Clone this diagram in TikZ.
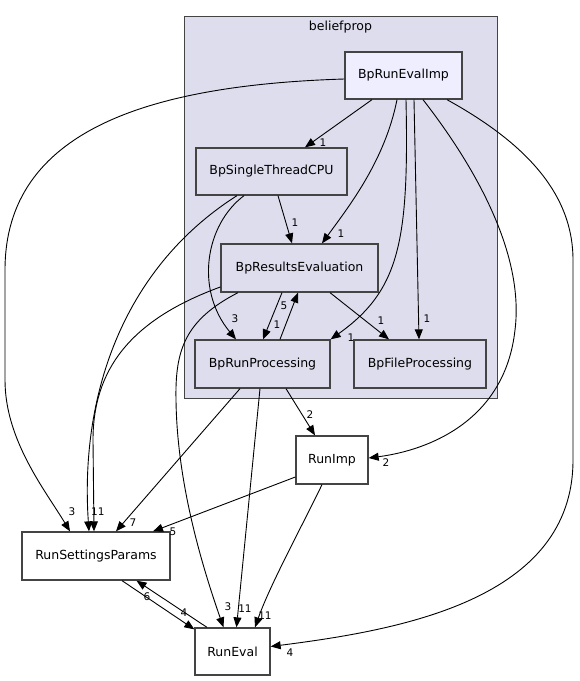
\documentclass[tikz,border=0pt]{standalone}
\usepackage{fontspec}
\setmainfont{DejaVu Sans}
\usetikzlibrary{arrows.meta}
\definecolor{clfill}{HTML}{DDDDEE}
\definecolor{hifill}{HTML}{EEEEFF}
\definecolor{bord}{HTML}{444444}
\tikzset{
 box/.style={draw=bord, line width=1.3pt, rectangle, inner sep=0pt, font=\fontsize{12.5}{14}\selectfont},
 inbox/.style={box, fill=clfill},
 outbox/.style={box, fill=white},
 edge/.style={draw=black, line width=0.9pt, -{Triangle[length=10pt,width=8pt]}},
 lbl/.style={font=\fontsize{10.5}{12}\selectfont, inner sep=0pt},
}
\begin{document}
\begin{tikzpicture}[x=1pt,y=-1pt]
\useasboundingbox (0,0) rectangle (580,681);
\node[draw=bord, fill=clfill, line width=1pt, minimum width=313pt, minimum height=382pt, inner sep=0pt] (cl) at (340.5,207) {};
\node[font=\fontsize{12.5}{14}\selectfont] (cltitle) at (340.5,27) {beliefprop};
\node[box, fill=hifill, minimum width=117pt, minimum height=47pt] (evalimp) at (403.5,75.5) {BpRunEvalImp};
\node[inbox, minimum width=151pt, minimum height=47pt] (stcpu) at (271.5,171.5) {BpSingleThreadCPU};
\node[inbox, minimum width=157pt, minimum height=48pt] (reseval) at (299.5,268) {BpResultsEvaluation};
\node[inbox, minimum width=135pt, minimum height=48pt] (runproc) at (262.5,364) {BpRunProcessing};
\node[inbox, minimum width=132pt, minimum height=48pt] (fileproc) at (420,364) {BpFileProcessing};
\node[outbox, minimum width=72pt, minimum height=48pt] (runimp) at (332,460) {RunImp};
\node[outbox, minimum width=148pt, minimum height=48pt] (rsp) at (96,556) {RunSettingsParams};
\node[outbox, minimum width=75pt, minimum height=47pt] (runeval) at (232.5,651.5) {RunEval};

\draw[edge] ([xshift=-31.5pt]evalimp.south) -- ([xshift=33.5pt]stcpu.north);
\draw[edge] ([yshift=-3.5pt]evalimp.west) .. controls (150,85) and (5,130) .. (5,270) -- (5,380) .. controls (5,440) and (45,490) .. ([xshift=-26pt]rsp.north);
\draw[edge] ([xshift=-6.5pt]evalimp.south) .. controls (385,160) and (350,205) .. ([xshift=22.5pt]reseval.north);
\draw[edge] ([xshift=2.5pt]evalimp.south) .. controls (409,240) and (400,290) .. (runproc.north east);
\draw[edge] ([xshift=10.5pt]evalimp.south) -- ([xshift=-1pt]fileproc.north);
\draw[edge] ([xshift=19.5pt]evalimp.south) .. controls (470,160) and (525,250) .. (515,330) .. controls (505,420) and (430,450) .. ([yshift=2pt]runimp.east);
\draw[edge] ([xshift=43.5pt]evalimp.south) .. controls (520,140) and (573,190) .. (573,260) -- (573,460) .. controls (573,600) and (400,630) .. ([yshift=5pt]runeval.east);
\draw[edge] ([xshift=6.5pt]stcpu.south) -- ([xshift=-7.5pt]reseval.north);
\draw[edge] ([xshift=-27.5pt]stcpu.south) .. controls (205,225) and (195,290) .. ([xshift=-26.5pt]runproc.north);
\draw[edge] ([xshift=-34.5pt]stcpu.south) .. controls (120,270) and (80,400) .. ([xshift=-7pt]rsp.north);
\draw[edge] ([xshift=-17.5pt]reseval.south) -- ([xshift=0.5pt]runproc.north);
\draw[edge] ([xshift=17.5pt]runproc.north) -- ([xshift=-1.5pt]reseval.south);
\draw[edge] ([xshift=30.5pt]reseval.south) -- ([xshift=-31pt]fileproc.north);
\draw[edge] ([yshift=-19pt]reseval.west) .. controls (130,320) and (93,370) .. (93,440) -- ([xshift=-2pt]rsp.north);
\draw[edge] ([xshift=-61.5pt]reseval.south) .. controls (185,320) and (175,350) .. (176,400) .. controls (177,480) and (200,560) .. ([xshift=-9pt]runeval.north);
\draw[edge] ([xshift=23.5pt]runproc.south) -- ([xshift=-17pt]runimp.north);
\draw[edge] ([xshift=-22.5pt]runproc.south) -- ([xshift=20pt]rsp.north);
\draw[edge] ([xshift=-2.5pt]runproc.south) -- ([xshift=4pt]runeval.north);
\draw[edge] ([yshift=-17pt]runimp.west) -- ([xshift=57pt]rsp.north);
\draw[edge] ([xshift=-10pt]runimp.south) .. controls (300,530) and (270,585) .. ([xshift=22.5pt]runeval.north);
\draw[edge] ([xshift=26pt]rsp.south) -- ([yshift=-2pt]runeval.north west);
\draw[edge] ([xshift=-25.5pt]runeval.north) -- ([xshift=40.5pt]rsp.south);

\node[lbl] (l1) at (323,143) {1};
\node[lbl] (l2) at (72,512) {3};
\node[lbl] (l3) at (341,234) {1};
\node[lbl] (l4) at (351,338) {1};
\node[lbl] (l5) at (427,319) {1};
\node[lbl] (l6) at (386,463) {2};
\node[lbl] (l7) at (290,653) {4};
\node[lbl] (l8) at (295,223) {1};
\node[lbl] (l9) at (235,319) {3};
\node[lbl] (l10) at (97.8,512) {11};
\node[lbl] (l12) at (277,325) {1};
\node[lbl] (l13) at (284,306) {5};
\node[lbl] (l14) at (381,321) {1};
\node[lbl] (l15) at (228,607) {3};
\node[lbl] (l16) at (310,415) {2};
\node[lbl] (l17) at (133,523) {7};
\node[lbl] (l18) at (245,609) {11};
\node[lbl] (l19) at (173,532) {5};
\node[lbl] (l20) at (265,616) {11};
\node[lbl] (l21) at (147,597) {6};
\node[lbl] (l22) at (184,613) {4};
\end{tikzpicture}
\end{document}
